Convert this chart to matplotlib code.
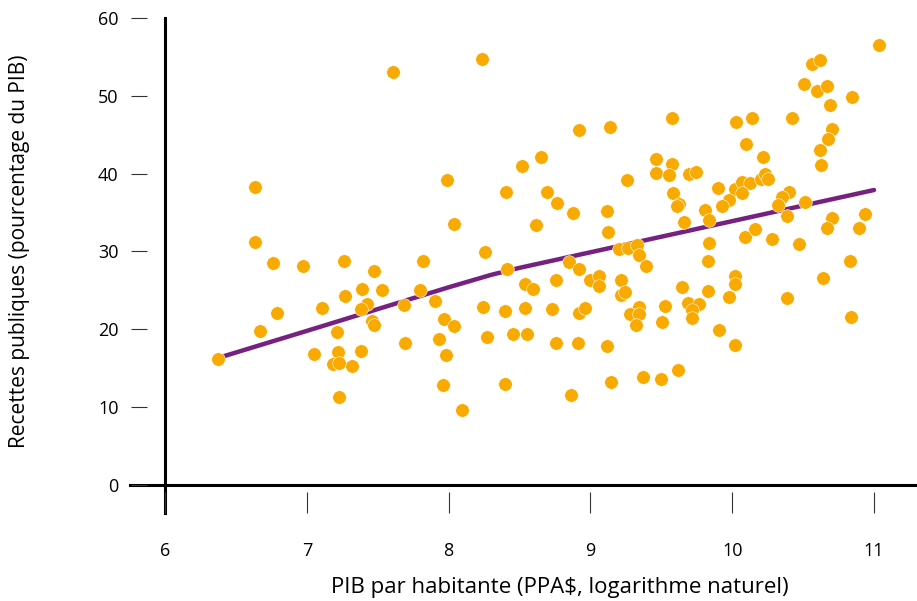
import matplotlib.pyplot as plt

# donnees
pib_log = [
    6.374, 6.633, 6.633, 6.760, 6.975, 7.260, 7.474, 7.387, 7.533, 7.269,
    7.105, 7.422, 7.382, 7.683, 6.790, 6.670, 7.458, 7.474, 7.213, 7.695,
    7.053, 7.222, 7.385, 7.187, 7.229, 7.319, 7.229, 7.606,
    8.236, 8.917, 9.141, 8.649, 8.518, 7.989, 9.261, 8.405, 8.692, 8.767,
    8.875, 9.117, 8.038, 8.619, 9.124, 8.255, 9.199, 9.268, 9.331, 9.340,
    9.390, 7.817, 8.851, 8.922, 8.410, 7.800, 8.539, 8.593, 8.755, 8.997,
    9.058, 9.058, 9.214, 9.214, 9.244, 7.906, 7.970, 8.036, 8.240, 8.398,
    8.541, 8.729, 8.922, 8.962, 9.343, 9.279, 9.343, 9.324, 7.930, 7.984,
    8.268, 8.452, 8.555, 8.755, 8.910, 9.119, 7.963, 8.400, 8.092, 8.863,
    9.145, 9.369,
    11.035, 10.563, 10.620, 10.504, 10.598, 10.669, 10.842, 10.687, 9.577, 10.029,
    10.140, 10.424, 10.701, 10.676, 10.099, 10.619, 10.624, 10.219, 9.463, 9.577,
    9.460, 9.554, 9.698, 9.743, 9.898, 10.020, 10.069, 10.123, 10.069, 10.203,
    10.231, 10.255, 9.585, 9.625, 9.613, 9.977, 9.926, 9.806, 9.834, 9.662,
    10.397, 10.351, 10.325, 10.511, 10.384, 10.701, 10.666, 10.937, 10.894, 9.839,
    10.092, 10.163, 10.281, 10.471, 9.827, 10.829, 10.638, 10.018, 10.018, 9.646,
    9.827, 9.980, 10.389, 9.528, 9.507, 9.690, 9.766, 9.714, 9.716, 9.907,
    10.020, 10.838, 9.620, 9.500,
]
recettes = [
    16.2, 38.3, 31.2, 28.5, 28.1, 28.8, 27.5, 25.2, 25.0, 24.3,
    22.8, 23.3, 22.6, 23.1, 22.1, 19.8, 21.1, 20.5, 19.7, 18.3,
    16.8, 17.1, 17.2, 15.5, 15.7, 15.3, 11.3, 53.1,
    54.7, 45.6, 46.0, 42.2, 41.0, 39.2, 39.2, 37.6, 37.6, 36.2,
    35.0, 35.2, 33.5, 33.4, 32.5, 29.9, 30.3, 30.4, 30.8, 29.6,
    28.1, 28.8, 28.6, 27.7, 27.7, 25.0, 25.8, 25.2, 26.3, 26.3,
    26.8, 25.6, 26.3, 24.4, 24.8, 23.7, 21.3, 20.4, 22.9, 22.3,
    22.8, 22.6, 22.1, 22.8, 22.9, 22.0, 22.0, 20.5, 18.7, 16.7,
    19.0, 19.4, 19.4, 18.2, 18.2, 17.9, 12.9, 13.0, 9.6, 11.6,
    13.2, 13.9,
    56.5, 54.1, 54.6, 51.5, 50.6, 51.2, 49.9, 48.8, 47.2, 46.7,
    47.2, 47.2, 45.7, 44.5, 43.8, 43.1, 41.1, 42.2, 41.9, 41.2,
    40.1, 39.8, 39.9, 40.2, 38.1, 38.0, 38.9, 38.8, 37.5, 39.3,
    39.9, 39.3, 37.5, 36.1, 35.8, 36.6, 35.8, 35.3, 34.0, 33.8,
    37.7, 37.0, 36.0, 36.4, 34.6, 34.3, 33.0, 34.8, 33.0, 31.1,
    31.9, 32.9, 31.6, 30.9, 28.8, 28.8, 26.6, 26.8, 25.8, 25.4,
    24.9, 24.2, 24.0, 23.0, 20.9, 23.4, 23.3, 22.5, 21.5, 19.9,
    18.0, 21.6, 14.8, 13.6,
]

# courbe de tendance
tendance_x = [6.37, 7.0, 7.5, 8.0, 8.3, 8.5, 9.0, 9.5, 10.0, 10.5, 11.0]
tendance_y = [16.3, 19.8, 22.6, 25.4, 27.0, 27.9, 29.9, 31.9, 33.9, 35.9, 37.9]

x_ticks = [6, 7, 8, 9, 10, 11]
y_ticks = [0, 10, 20, 30, 40, 50, 60]

ORANGE = "#F8AA00"
VIOLET = "#76207F"


def main():
    plt.rcParams['font.family'] = ['Open Sans', 'DejaVu Sans']

    fig = plt.figure(figsize=(9.17, 6.01), dpi=100)
    W, H = 917, 601
    # axes en pixels : gauche 147, droite 917, haut 18, bas 492
    ax = fig.add_axes([147 / W, 1 - 492 / H, (917 - 147) / W, (492 - 18) / H])

    ax.set_xlim(5.873, 11.303)
    ax.set_ylim(-0.9, 60)

    for s in ax.spines.values():
        s.set_visible(False)

    ax.plot(tendance_x, tendance_y, color=VIOLET, lw=3.2, solid_capstyle='round', zorder=2)
    ax.scatter(pib_log, recettes, s=95, color=ORANGE, edgecolor='white', linewidth=0.4, zorder=3)

    # axes principaux
    ax.axhline(0, xmin=-0.022, xmax=1, color='black', lw=2.2, clip_on=False, zorder=1)
    ax.axvline(6, ymin=-0.0443, ymax=1, color='black', lw=2.2, clip_on=False, zorder=1)

    ax.set_xticks(x_ticks)
    ax.set_yticks(y_ticks)
    ax.tick_params(axis='x', length=15, width=0.8, color='#333333', pad=21, labelsize=13)
    ax.tick_params(axis='y', length=11.5, width=0.8, color='#333333', pad=9, labelsize=13)

    ax.set_xlabel("PIB par habitante (PPA$, logarithme naturel)", fontsize=16, va='center')
    ax.xaxis.set_label_coords((560 - 147) / 770, (492 - 587) / 474)
    ax.set_ylabel("Recettes publiques (pourcentage du PIB)", fontsize=15, va='center')
    ax.yaxis.set_label_coords((20 - 147) / 770, (492 - 251) / 474)

    fig.savefig("out.png", dpi=100)
    return 0


if __name__ == "__main__":
    SystemExit(main())
